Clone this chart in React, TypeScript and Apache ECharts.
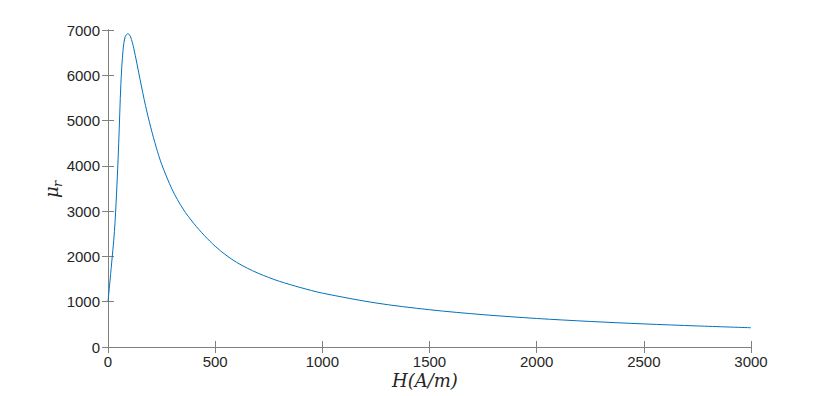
import React, { useEffect, useRef } from "react";
import * as echarts from "echarts";

const hValues = [0, 15, 30, 40, 50, 60, 70, 80, 93, 105, 120, 150, 175, 200, 225, 250, 300, 350, 400, 450, 500, 550, 600, 650, 700, 750, 800, 900, 1000, 1250, 1500, 1750, 2000, 2250, 2500, 2750, 3000];
const muValues = [1000, 1750, 2550, 3400, 4500, 5800, 6550, 6850, 6920, 6850, 6600, 5900, 5330, 4840, 4410, 4040, 3470, 3050, 2730, 2460, 2225, 2030, 1870, 1740, 1630, 1535, 1450, 1310, 1190, 972, 823, 714, 630, 564, 510, 465, 425];
const xTicks = { min: 0, max: 3000, interval: 500 };
const yTicks = { min: 0, max: 7000, interval: 1000 };

export default function App() {
  const ref = useRef<HTMLDivElement>(null);
  useEffect(() => {
    if (!ref.current) return;
    const chart = echarts.init(ref.current, undefined, { renderer: "svg" });
    const axisColor = "#808080";
    const labelStyle = {
      color: "#262626", fontSize: 15, fontFamily: "Liberation Sans, Arial, sans-serif",
      formatter: (v: number) => String(v),
    };
    const mirrorAxis = {
      axisLine: { show: true, lineStyle: { color: axisColor, width: 1 } },
      axisTick: { show: true, inside: true, length: 6, lineStyle: { color: axisColor } },
      axisLabel: { show: false },
      splitLine: { show: false },
    };
    chart.setOption({
      animation: false,
      backgroundColor: "#fff",
      grid: { left: 108, right: 79, top: 30, bottom: 49 },
      xAxis: [
        {
          type: "value", ...xTicks, position: "bottom",
          axisLine: { show: true, lineStyle: { color: axisColor, width: 1 } },
          axisTick: { show: true, inside: true, length: 6, lineStyle: { color: axisColor } },
          axisLabel: { ...labelStyle, margin: 7 },
          splitLine: { show: false },
        },
        { type: "value", ...xTicks, position: "top", ...mirrorAxis },
      ],
      yAxis: [
        {
          type: "value", ...yTicks, position: "left",
          axisLine: { show: true, lineStyle: { color: axisColor, width: 1 } },
          axisTick: { show: true, inside: true, length: 6, lineStyle: { color: axisColor } },
          axisLabel: { ...labelStyle, margin: 8 },
          splitLine: { show: false },
        },
        { type: "value", ...yTicks, position: "right", ...mirrorAxis },
      ],
      graphic: [
        {
          type: "text", left: 392, top: 371,
          style: { text: "H(A/m)", fill: "#262626", font: "italic 18px 'DejaVu Serif', 'Liberation Serif', serif" },
        },
        {
          type: "group", x: 60, y: 198, rotation: Math.PI / 2,
          children: [
            { type: "text", x: 0, y: 0, style: { text: "μ", fill: "#262626", font: "italic 18px 'DejaVu Serif', 'Liberation Serif', serif", textVerticalAlign: "bottom" } },
            { type: "text", x: 11, y: 4, style: { text: "r", fill: "#262626", font: "italic 13px 'DejaVu Serif', 'Liberation Serif', serif", textVerticalAlign: "bottom" } },
          ],
        },
      ],
      series: [
        {
          type: "line",
          xAxisIndex: 0, yAxisIndex: 0,
          data: hValues.map((h, i) => [h, muValues[i]]),
          showSymbol: false,
          smooth: 0.3,
          lineStyle: { color: "#0072BD", width: 1 },
        },
      ],
    });
    return () => chart.dispose();
  }, []);
  return <div ref={ref} style={{ width: 830, height: 396, position: "absolute", left: 0, top: 0 }} />;
}
